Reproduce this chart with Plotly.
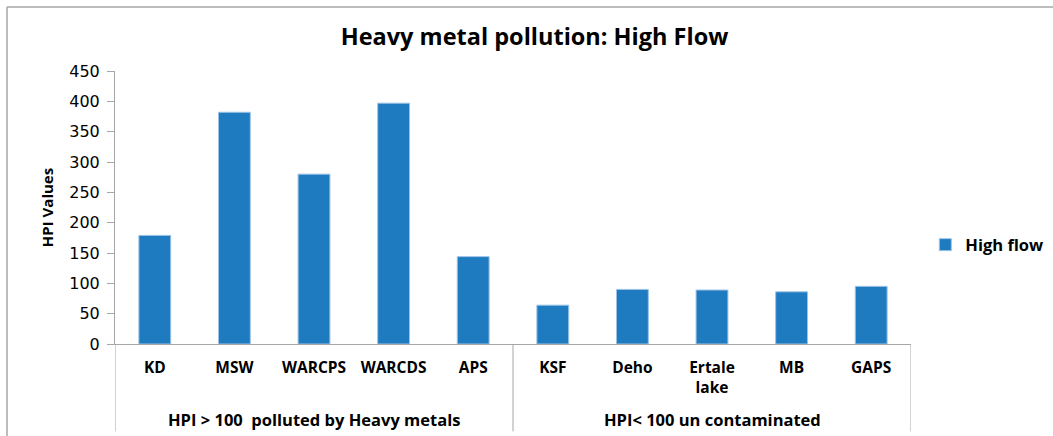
import plotly.graph_objects as go

# Sampling sites and their heavy-metal pollution index (high flow season)
sites = ["KD", "MSW", "WARCPS", "WARCDS", "APS", "KSF", "Deho", "Ertale lake", "MB", "GAPS"]
site_labels = ["KD", "MSW", "WARCPS", "WARCDS", "APS", "KSF", "Deho", "Ertale<br>lake", "MB", "GAPS"]
hpi_high_flow = [179, 382, 280, 397, 144, 64, 90, 89, 86, 95]

# Site groups: (label, first index, last index)
group_names = ["HPI > 100  polluted by Heavy metals", "HPI< 100 un contaminated"]
group_spans = [(0, 4), (5, 9)]

y_ticks = list(range(0, 451, 50))

BAR = "#1F7BBF"
AXIS = "#A6A6A6"
LABEL_FONT = "Open Sans"

fig = go.Figure()
fig.add_trace(go.Bar(
    x=sites,
    y=hpi_high_flow,
    name="High flow",
    marker=dict(color=BAR, line=dict(color="#9CC3E6", width=1)),
    width=0.4,
))

fig.update_layout(
    width=1053,
    height=436,
    margin=dict(l=115, r=142, t=71, b=92, autoexpand=False),
    paper_bgcolor="white",
    plot_bgcolor="white",
    title=dict(
        text="<b>Heavy metal pollution: High Flow</b>",
        x=(336 + 733) / 2 / 1053, xanchor="center",
        y=1 - 37 / 436, yanchor="middle",
        font=dict(family=LABEL_FONT, size=23.5, color="black"),
    ),
    showlegend=True,
    legend=dict(
        x=1.018, y=0.363, xanchor="left", yanchor="middle",
        font=dict(family=LABEL_FONT, size=16.5, color="black", weight="bold"),
        bgcolor="rgba(0,0,0,0)",
    ),
    xaxis=dict(
        type="category",
        tickvals=sites,
        ticktext=site_labels,
        showline=True, linecolor=AXIS, linewidth=1,
        ticks="", showgrid=False,
        ticklabelstandoff=9,
        tickfont=dict(family=LABEL_FONT, size=15.5, color="black", weight="bold"),
        range=[-0.5, len(sites) - 0.5],
    ),
    yaxis=dict(
        range=[0, 450],
        tickvals=y_ticks,
        showline=True, linecolor=AXIS, linewidth=1,
        ticks="outside", ticklen=7, tickcolor=AXIS,
        ticklabelstandoff=4,
        showgrid=False, zeroline=False,
        tickfont=dict(family="DejaVu Sans", size=16, color="black"),
        title=dict(text="<b>HPI Values</b>", standoff=12,
                   font=dict(family=LABEL_FONT, size=15, color="black")),
    ),
)

# Group dividers below the axis and group captions
divider_positions = [-0.5] + [end + 0.5 for _, end in group_spans]
for xpos in divider_positions:
    fig.add_shape(type="line", xref="x", yref="paper",
                  x0=xpos, x1=xpos, y0=0, y1=-0.32,
                  line=dict(color=AXIS, width=1))

for name, (start, end) in zip(group_names, group_spans):
    fig.add_annotation(
        x=(start + end) / 2, xref="x",
        y=-0.278, yref="paper", yanchor="middle",
        text=f"<b>{name}</b>", showarrow=False,
        font=dict(family=LABEL_FONT, size=16.5, color="black"),
    )

# Chart frame (left and top edges)
fig.add_shape(type="line", xref="paper", yref="paper",
              x0=-108 / 796, x1=-108 / 796, y0=(344 - 7) / 273, y1=-0.35,
              line=dict(color=AXIS, width=1.5))
fig.add_shape(type="line", xref="paper", yref="paper",
              x0=-108 / 796, x1=1.2, y0=(344 - 7) / 273, y1=(344 - 7) / 273,
              line=dict(color=AXIS, width=1.5))

fig.write_html("out.html")
